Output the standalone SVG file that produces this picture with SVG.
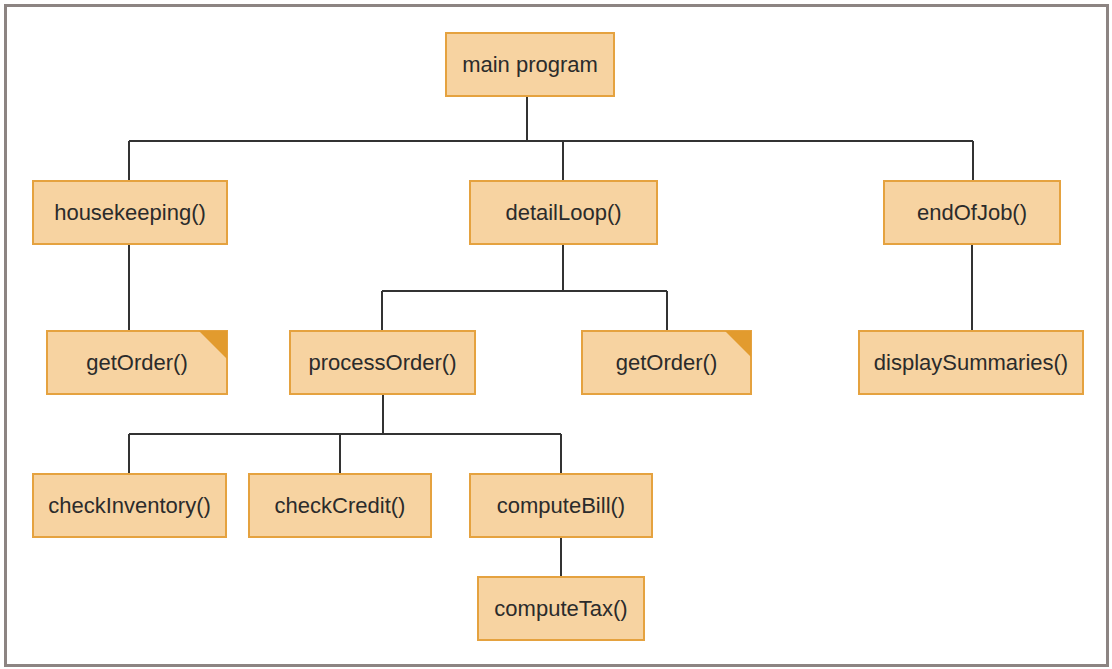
<svg xmlns="http://www.w3.org/2000/svg" width="1112" height="669" viewBox="0 0 1112 669">
<style>
.box{fill:#F7D3A1;stroke:#E5A23F;stroke-width:2}
.corner{fill:#E29B2E}
.lbl{font-family:"Liberation Sans",Arial,sans-serif;font-size:22px;fill:#2b2b2b;text-anchor:middle}
.conn{fill:none;stroke:#333333;stroke-width:2}
</style>
<rect x="0" y="0" width="1112" height="669" fill="#ffffff"/>
<rect x="5.5" y="5.5" width="1102" height="660" fill="#ffffff" stroke="#8c8482" stroke-width="3"/>
<g id="connectors">
<path class="conn" d="M527 96V141M129 141H973M129 141V181M563 141V181M973 141V181"/>
<path class="conn" d="M129 244V330"/>
<path class="conn" d="M563 244V291M382 291H667M382 291V331M667 291V331"/>
<path class="conn" d="M972 244V331"/>
<path class="conn" d="M383 394V434M129 434H561M129 434V474M340 434V474M561 434V474"/>
<path class="conn" d="M561 537V577"/>
</g>
<g id="main"><rect class="box" x="446" y="33" width="168" height="63"/><text class="lbl" x="530" y="72">main program</text></g>
<g id="housekeeping"><rect class="box" x="33" y="181" width="194" height="63"/><text class="lbl" x="130" y="220">housekeeping()</text></g>
<g id="detailLoop"><rect class="box" x="470" y="181" width="187" height="63"/><text class="lbl" x="563.5" y="220">detailLoop()</text></g>
<g id="endOfJob"><rect class="box" x="884" y="181" width="176" height="63"/><text class="lbl" x="972" y="220">endOfJob()</text></g>
<g id="getOrder1"><rect class="box" x="47" y="331" width="180" height="63"/><polygon class="corner" points="199,331 227,331 227,359"/><text class="lbl" x="137" y="370">getOrder()</text></g>
<g id="processOrder"><rect class="box" x="290" y="331" width="185" height="63"/><text class="lbl" x="382.5" y="370">processOrder()</text></g>
<g id="getOrder2"><rect class="box" x="582" y="331" width="169" height="63"/><polygon class="corner" points="725,331 751,331 751,357"/><text class="lbl" x="666.5" y="370">getOrder()</text></g>
<g id="displaySummaries"><rect class="box" x="859" y="331" width="224" height="63"/><text class="lbl" x="971" y="370">displaySummaries()</text></g>
<g id="checkInventory"><rect class="box" x="33" y="474" width="193" height="63"/><text class="lbl" x="129.5" y="513">checkInventory()</text></g>
<g id="checkCredit"><rect class="box" x="249" y="474" width="182" height="63"/><text class="lbl" x="340" y="513">checkCredit()</text></g>
<g id="computeBill"><rect class="box" x="470" y="474" width="182" height="63"/><text class="lbl" x="561" y="513">computeBill()</text></g>
<g id="computeTax"><rect class="box" x="478" y="577" width="166" height="63"/><text class="lbl" x="561" y="616">computeTax()</text></g>
</svg>
